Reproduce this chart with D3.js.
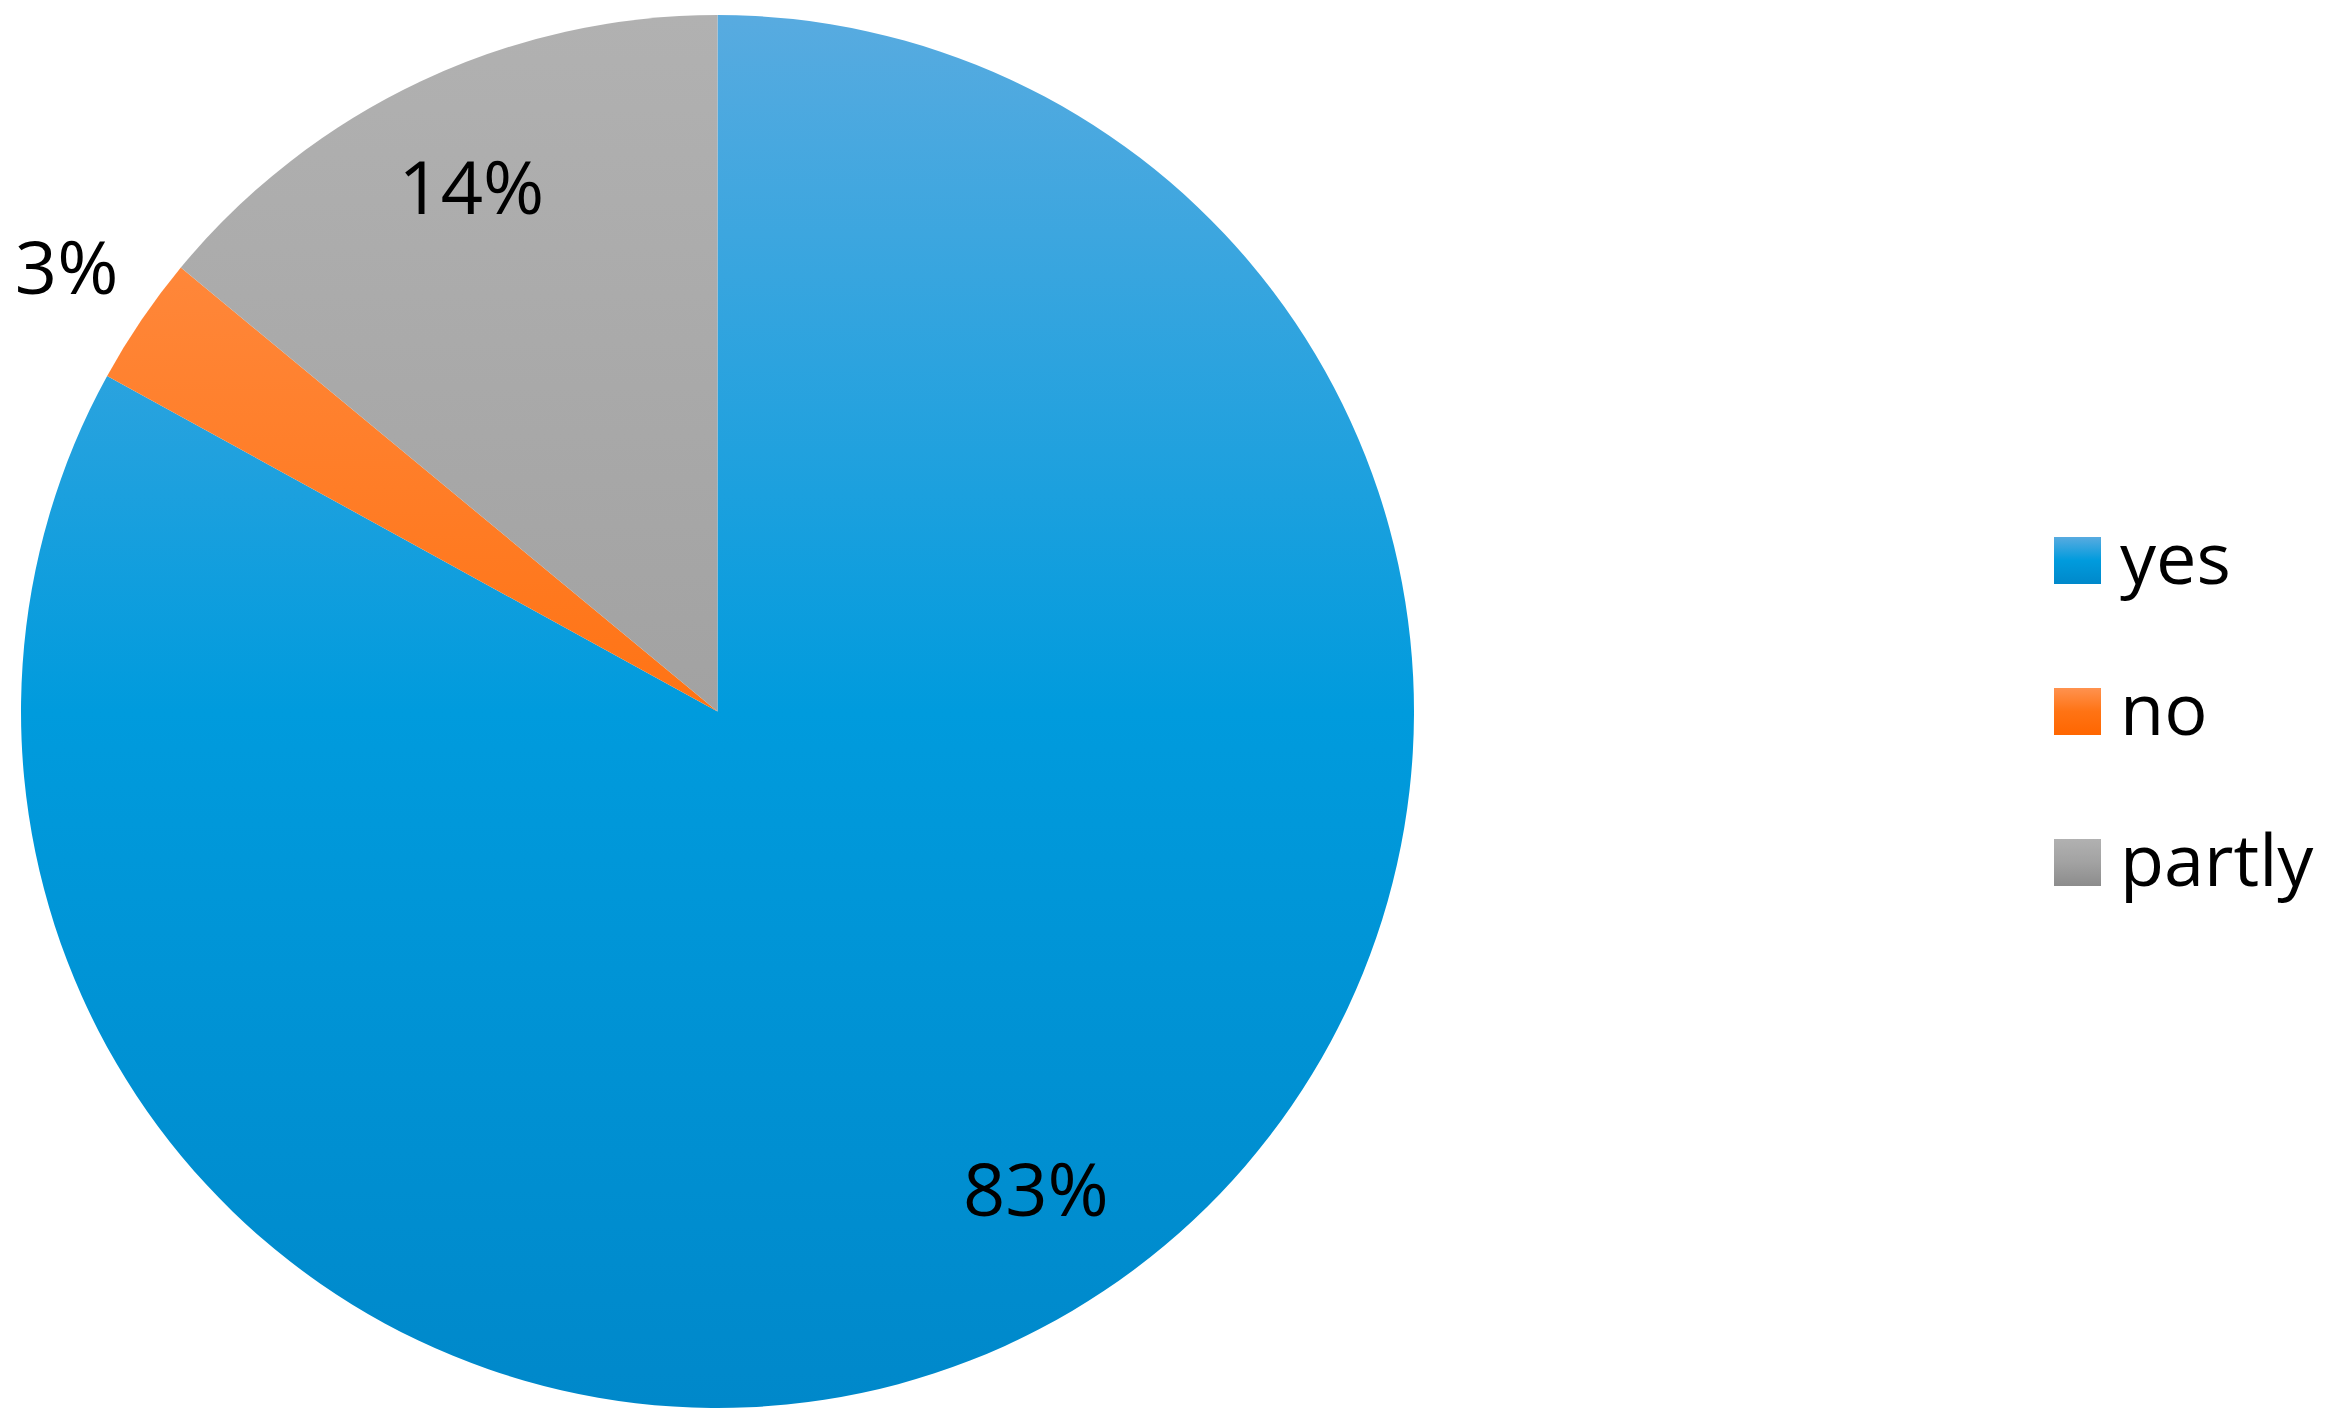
<!DOCTYPE html>
<html>
<head>
<meta charset="utf-8">
<script src="https://cdn.jsdelivr.net/npm/d3@7"></script>
<style>
  body { margin: 0; background: #fff; }
  text { font-family: "Open Sans", "Noto Sans", sans-serif; fill: #000; }
</style>
</head>
<body>
<div id="chart"></div>
<script>
// data
var categories = ["yes", "no", "partly"];
var shares = [83, 3, 14];
var labels = ["83%", "3%", "14%"];
// gradient stops for each slice: top, middle, bottom
var gradTop = ["#58abe0", "#ff924f", "#b1b1b1"];
var gradMid = ["#009bdd", "#ff7314", "#a2a2a2"];
var gradBot = ["#0088ca", "#ff6600", "#8c8c8c"];

var width = 2344, height = 1423;
var cx = 717.5, cy = 711.5, radius = 696.5;

var svg = d3.select("#chart")
    .append("svg")
    .attr("width", width)
    .attr("height", height);

var defs = svg.append("defs");

// one gradient spanning the whole pie, one per legend swatch
categories.forEach(function (c, i) {
    var g = defs.append("linearGradient")
        .attr("id", "pie-" + i)
        .attr("gradientUnits", "userSpaceOnUse")
        .attr("x1", 0).attr("x2", 0)
        .attr("y1", -radius).attr("y2", radius);   // group is already centred
    g.append("stop").attr("offset", "0%").attr("stop-color", gradTop[i]);
    g.append("stop").attr("offset", "50%").attr("stop-color", gradMid[i]);
    g.append("stop").attr("offset", "100%").attr("stop-color", gradBot[i]);

    var l = defs.append("linearGradient")
        .attr("id", "leg-" + i)
        .attr("x1", 0).attr("x2", 0)
        .attr("y1", 0).attr("y2", 1);
    l.append("stop").attr("offset", "0%").attr("stop-color", gradTop[i]);
    l.append("stop").attr("offset", "50%").attr("stop-color", gradMid[i]);
    l.append("stop").attr("offset", "100%").attr("stop-color", gradBot[i]);
});

var pie = d3.pie().sort(null).value(function (d) { return d; });
var arcs = pie(shares);

var arc = d3.arc().innerRadius(0).outerRadius(radius);

var g = svg.append("g")
    .attr("transform", "translate(" + cx + "," + cy + ")");

g.selectAll("path")
    .data(arcs)
    .enter()
    .append("path")
    .attr("d", arc)
    .attr("fill", function (d, i) { return "url(#pie-" + i + ")"; });

// small slice gets its label outside, the others inside
function labelRadius(d) {
    return d.data < 5 ? radius * 1.13 : radius * 0.83;
}
// the big slice label sits a bit off its centroid, like the original
var bigNudge = [24, -18];

g.selectAll("text.lbl")
    .data(arcs)
    .enter()
    .append("text")
    .attr("class", "lbl")
    .attr("transform", function (d) {
        var r = labelRadius(d);
        var c = d3.arc().innerRadius(r).outerRadius(r).centroid(d);
        if (d.data > 50) { c[0] += bigNudge[0]; c[1] += bigNudge[1]; }
        return "translate(" + c[0] + "," + c[1] + ")";
    })
    .attr("text-anchor", "middle")
    .attr("dy", "0.34em")
    .style("font-size", "74px")
    .text(function (d, i) { return labels[i]; });

// legend
var legend = svg.append("g")
    .attr("transform", "translate(2054,537)");

var item = legend.selectAll("g")
    .data(categories)
    .enter()
    .append("g")
    .attr("transform", function (d, i) { return "translate(0," + (i * 151) + ")"; });

item.append("rect")
    .attr("width", 47)
    .attr("height", 47)
    .attr("fill", function (d, i) { return "url(#leg-" + i + ")"; });

item.append("text")
    .attr("x", 66)
    .attr("y", 47)
    .style("font-size", "72px")
    .text(function (d) { return d; });
</script>
</body>
</html>
